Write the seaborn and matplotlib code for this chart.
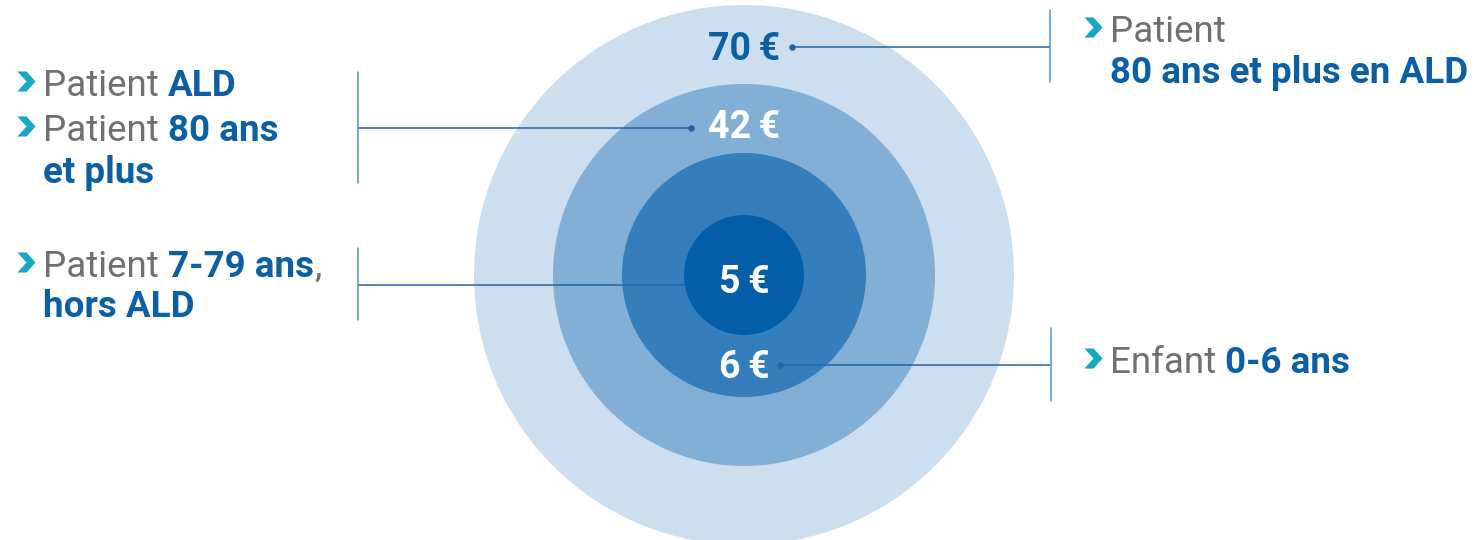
import matplotlib
matplotlib.use("Agg")
import matplotlib.pyplot as plt
from matplotlib.patches import Circle
from matplotlib.path import Path
import seaborn as sns
import pandas as pd

# Données
montants = ["70\u2009€", "42\u2009€", "6\u2009€", "5\u2009€"]  # de l'anneau extérieur au centre
rayons = [270, 191, 122, 60]
couleurs_anneaux = ["#cddfef", "#82afd6", "#357ebc", "#055ea8"]
couleurs_montants = ["#0b5fa5", "white", "white", "white"]

# libellés : (texte normal, texte gras)
libelles = [
    [("Patient", ""), ("", "80 ans et plus en ALD")],
    [("Patient", "ALD"), ("Patient", "80 ans"), ("", "et plus")],
    [("Enfant", "0-6 ans")],
    [("Patient", "7-79 ans|,"), ("", "hors ALD")],
]

BLEU = "#0b5fa5"
GRIS = "#707070"
TURQUOISE = "#17a9c3"
TRAIT = "#2563a6"
CROCHET = "#5a8fca"

sns.set_theme(style="white")
plt.rcParams["font.family"] = ["Roboto", "DejaVu Sans"]

fig = plt.figure(figsize=(14.74, 5.40), dpi=100)
ax = fig.add_axes([0, 0, 1, 1])

cx, cy = 744, 275
for r, c in zip(rayons, couleurs_anneaux):
    ax.add_patch(Circle((cx, cy), r, color=c, lw=0, zorder=1))

# position verticale (ligne de base) des montants
y_montants = [60, 138, 378, 293]
for txt, col, yb in zip(montants, couleurs_montants, y_montants):
    ax.text(cx, yb, txt, ha="center", va="baseline", fontsize=27,
            fontweight="bold", color=col, zorder=5)

# traits de rappel
traits = pd.DataFrame({
    "x0": [792, 358, 780, 358],
    "x1": [1050, 691, 1050, 685],
    "y": [47, 128, 365, 285],
    "point": [True, True, True, False],
})
for _, t in traits.iterrows():
    ax.plot([t.x0, t.x1], [t.y, t.y], color=TRAIT, lw=1.1, zorder=4)
pts = pd.concat([
    traits[traits.point & (traits.x0 > 700)].assign(px=lambda d: d.x0),
    traits[traits.point & (traits.x0 < 700)].assign(px=lambda d: d.x1),
])
sns.scatterplot(data=pts, x="px", y="y", color=TRAIT, s=22, linewidth=0,
                ax=ax, zorder=6, legend=False)
ax.set_xlim(0, 1474)
ax.set_ylim(540, 0)
ax.axis("off")

crochets = [(1050, 10, 82), (358, 72, 183), (1051, 328, 401), (358, 248, 320)]
for x, y0, y1 in crochets:
    ax.plot([x, x], [y0, y1], color=CROCHET, lw=1.1, zorder=4)

# chevrons
chevron = Path([(-0.9, 1.0), (0.0, 1.0), (0.9, 0.0), (0.0, -1.0),
                (-0.9, -1.0), (0.0, 0.0), (-0.9, 1.0)])

renderer = fig.canvas.get_renderer()
inv = ax.transData.inverted()
TAILLE = 26.5
espace = 0.25 * TAILLE * 100 / 72


def ligne(x, yb, normal, gras):
    xx = x
    if normal:
        t = ax.text(xx, yb, normal, fontsize=TAILLE, fontweight="normal",
                    color=GRIS, va="baseline", ha="left", zorder=5)
        bb = t.get_window_extent(renderer)
        xx = inv.transform((bb.x1, 0))[0] + espace
    for k, morceau in enumerate(gras.split("|")):
        if not morceau:
            continue
        coul = BLEU if k == 0 else GRIS
        poids = "bold" if k == 0 else "normal"
        t = ax.text(xx, yb, morceau, fontsize=TAILLE, fontweight=poids,
                    color=coul, va="baseline", ha="left", zorder=5)
        bb = t.get_window_extent(renderer)
        xx = inv.transform((bb.x1, 0))[0] + 1


blocs = [
    (1110, [42, 83], [True, False]),
    (43, [96, 141, 183], [True, True, False]),
    (1110, [373], [True]),
    (43, [277, 317], [True, False]),
]
for (x, ys, chev), lignes in zip(blocs, libelles):
    for yb, c, (n, g) in zip(ys, chev, lignes):
        ligne(x, yb, n, g)
        if c:
            ax.scatter([x - 17], [yb - 15], marker=chevron, s=210,
                       color=TURQUOISE, linewidths=0, zorder=5)

fig.savefig("out.png", dpi=100)
